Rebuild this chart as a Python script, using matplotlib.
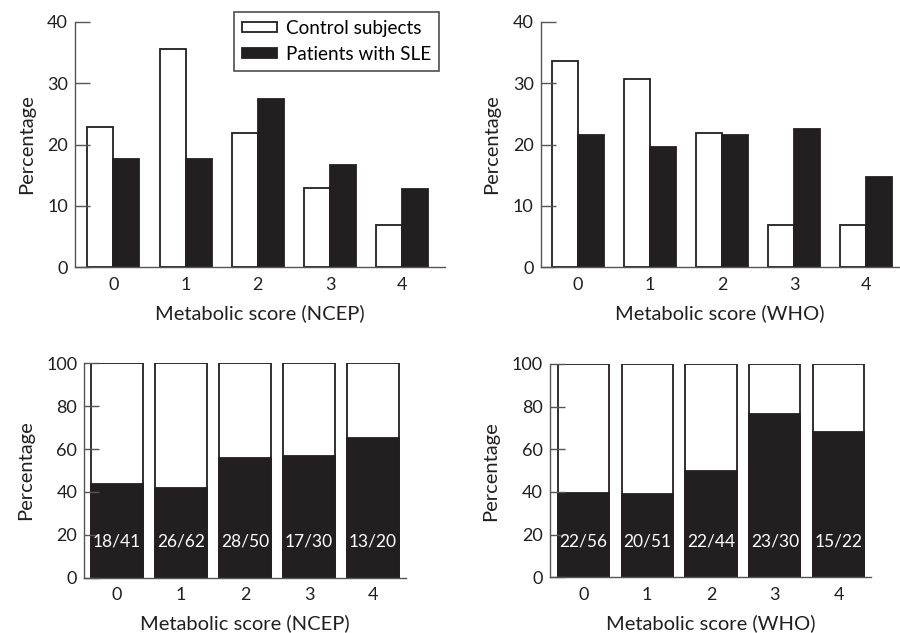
import matplotlib
matplotlib.use('Agg')
import matplotlib.pyplot as plt
import numpy as np

# Datos
scores = ['0', '1', '2', '3', '4']

ncep_control = [22.8, 35.6, 21.8, 12.9, 6.9]
ncep_sle = [17.6, 17.6, 27.4, 16.7, 12.7]
who_control = [33.7, 30.7, 21.8, 6.9, 6.9]
who_sle = [21.6, 19.6, 21.6, 22.5, 14.7]

ncep_counts = ['18/41', '26/62', '28/50', '17/30', '13/20']
ncep_sle_pct = [43.9, 41.9, 56.0, 56.7, 65.0]
who_counts = ['22/56', '20/51', '22/44', '23/30', '15/22']
who_sle_pct = [39.3, 39.2, 50.0, 76.7, 68.2]

BLACK = '#231f20'
GRAY = '#555555'
FS = 13
FS_LABEL = 14.5

plt.rcParams['font.family'] = ['Lato', 'DejaVu Sans']
plt.rcParams['font.size'] = FS

fig = plt.figure(figsize=(9, 6.33), dpi=100)


def estilo(ax, ylim, yticks, xlim, xlabel):
    ax.set_xlim(*xlim)
    ax.set_ylim(*ylim)
    ax.set_yticks(yticks)
    ax.set_xticks(range(len(scores)))
    ax.set_xticklabels(scores)
    for s in ['top', 'right']:
        ax.spines[s].set_visible(False)
    for s in ['left', 'bottom']:
        ax.spines[s].set_color(GRAY)
        ax.spines[s].set_linewidth(1.0)
    ax.tick_params(axis='y', direction='in', length=11, width=1.0, color=GRAY,
                   pad=5, labelsize=FS, labelcolor=BLACK)
    ax.tick_params(axis='x', length=0, pad=7, labelsize=FS, labelcolor=BLACK)
    ax.set_ylabel('Percentage', fontsize=FS_LABEL, color=BLACK, labelpad=9)
    ax.set_xlabel(xlabel, fontsize=FS_LABEL, color=BLACK, labelpad=8)


def barras_pares(ax, control, sle):
    x = np.arange(len(scores))
    w = 0.36
    b1 = ax.bar(x - w / 2, control, w, color='white', edgecolor=BLACK, linewidth=1.3,
                label='Control subjects')
    b2 = ax.bar(x + w / 2, sle, w, color=BLACK, edgecolor=BLACK, linewidth=1.3,
                label='Patients with SLE')
    return b1, b2


def barras_apiladas(ax, pct, counts):
    x = np.arange(len(scores))
    w = 0.8
    ax.bar(x, [100] * len(x), w, color='white', edgecolor=BLACK, linewidth=1.3)
    ax.bar(x, pct, w, color=BLACK, edgecolor=BLACK, linewidth=1.3)
    for xi, c in zip(x, counts):
        ax.text(xi, 16.7, c, color='white', ha='center', va='center', fontsize=12.5)


# Panel superior izquierdo (NCEP)
ax1 = fig.add_axes([75 / 900, 1 - 267 / 633, 370 / 900, 245 / 633])
barras_pares(ax1, ncep_control, ncep_sle)
estilo(ax1, (0, 40), [0, 10, 20, 30, 40], (-0.53, 4.59), 'Metabolic score (NCEP)')
leg = ax1.legend(loc='upper right', bbox_to_anchor=(439 / 900, 1 - 12 / 633),
                 bbox_transform=fig.transFigure, fontsize=13.6, frameon=True,
                 fancybox=False, edgecolor=BLACK, borderaxespad=0,
                 handlelength=1.85, handleheight=0.45, handletextpad=0.5,
                 labelspacing=0.5, borderpad=0.4)
leg.get_frame().set_linewidth(1.2)

# Panel superior derecho (WHO)
ax2 = fig.add_axes([540.7 / 900, 1 - 267 / 633, 358.3 / 900, 245 / 633])
barras_pares(ax2, who_control, who_sle)
estilo(ax2, (0, 40), [0, 10, 20, 30, 40], (-0.51, 4.45), 'Metabolic score (WHO)')

# Panel inferior izquierdo
ax3 = fig.add_axes([84.3 / 900, 1 - 577.7 / 633, 321.4 / 900, 214.4 / 633])
barras_apiladas(ax3, ncep_sle_pct, ncep_counts)
estilo(ax3, (0, 100), [0, 20, 40, 60, 80, 100], (-0.51, 4.51), 'Metabolic score (NCEP)')

# Panel inferior derecho
ax4 = fig.add_axes([550 / 900, 1 - 577.3 / 633, 320.7 / 900, 213.3 / 633])
barras_apiladas(ax4, who_sle_pct, who_counts)
estilo(ax4, (0, 100), [0, 20, 40, 60, 80, 100], (-0.52, 4.5), 'Metabolic score (WHO)')

fig.savefig('out.png', dpi=100)
plt.close(fig)
